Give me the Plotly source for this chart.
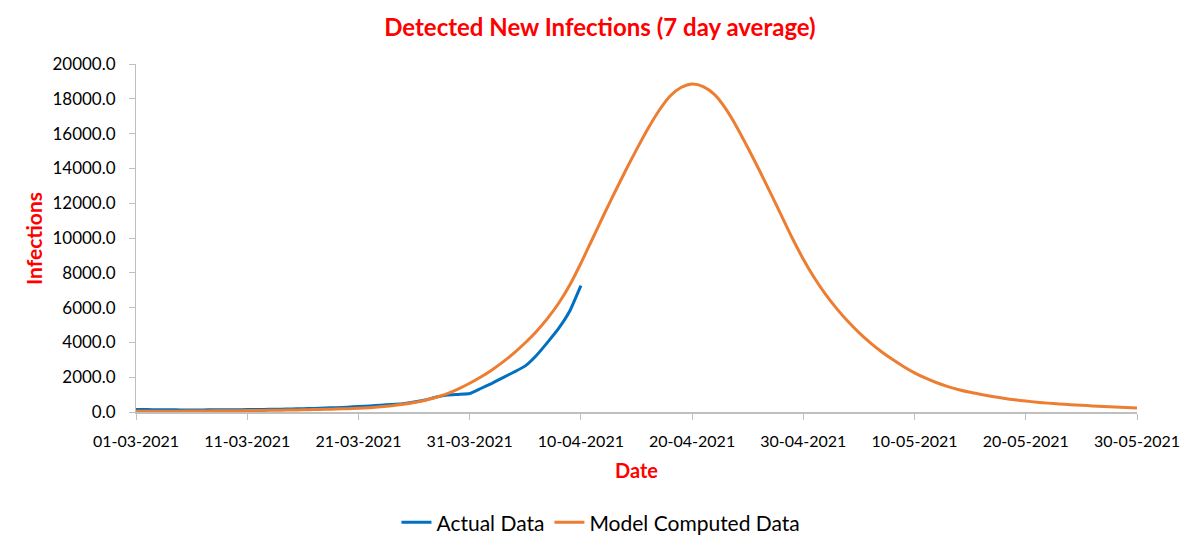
import pandas as pd
import plotly.graph_objects as go

start_date = "2021-03-01"

actual_values = [
    150, 140, 130, 125, 120, 120, 122, 125, 128, 132,
    138, 145, 155, 165, 178, 190, 205, 225, 250, 280,
    315, 350, 390, 430, 480, 570, 690, 860, 970, 1010,
    1060, 1350, 1650, 1980, 2300, 2650, 3250, 4000, 4800, 5800,
    7260,
]

model_values = [
    40, 42, 44, 46, 50, 55, 60, 65, 70, 75,
    80, 88, 96, 105, 115, 125, 140, 155, 170, 190,
    215, 250, 295, 355, 440, 545, 680, 850, 1060, 1330,
    1650, 2010, 2420, 2880, 3400, 3980, 4630, 5380, 6250, 7300,
    8550, 9900, 11250, 12570, 13850, 15080, 16250, 17300, 18150, 18650,
    18850, 18700, 18250, 17450, 16400, 15200, 13950, 12650, 11330, 10000,
    8780, 7700, 6760, 5940, 5210, 4560, 3990, 3480, 3030, 2620,
    2250, 1940, 1680, 1460, 1280, 1130, 1010, 895, 795, 705,
    630, 565, 510, 465, 420, 385, 350, 315, 285, 258,
    232,
]

tick_dates = ["2021-03-01", "2021-03-11", "2021-03-21", "2021-03-31", "2021-04-10",
              "2021-04-20", "2021-04-30", "2021-05-10", "2021-05-20", "2021-05-30"]

actual_dates = pd.date_range(start_date, periods=len(actual_values), freq="D")
model_dates = pd.date_range(start_date, periods=len(model_values), freq="D")

FONT = "Lato"
RED = "#FF0000"
GREY = "#BFBFBF"

fig = go.Figure()
fig.add_trace(go.Scatter(x=actual_dates, y=actual_values, mode="lines", name="Actual Data",
                         line=dict(color="#0070C0", width=3, shape="spline", smoothing=0.4)))
fig.add_trace(go.Scatter(x=model_dates, y=model_values, mode="lines", name="Model Computed Data",
                         line=dict(color="#ED7D31", width=3, shape="spline", smoothing=0.8)))

fig.update_layout(
    width=1200, height=547,
    margin=dict(l=128, r=71, t=56, b=143),
    paper_bgcolor="white", plot_bgcolor="white",
    font=dict(family=FONT, size=16, color="#000000"),
    title=dict(text="<b>Detected New Infections (7 day average)</b>", x=0.4933, xanchor="center",
               y=1 - 20 / 547, yref="container", yanchor="middle",
               font=dict(family=FONT, size=24, color=RED)),
    showlegend=True,
    legend=dict(orientation="h", x=0.4645, xanchor="center", y=-0.318, yanchor="middle",
                font=dict(family=FONT, size=21, color="#000000"), itemwidth=30,
                bgcolor="rgba(0,0,0,0)"),
    annotations=[
        dict(text="<b>Infections</b>", xref="paper", yref="paper", x=-0.1029, y=0.5,
             xanchor="center", yanchor="middle", textangle=-90, showarrow=False,
             font=dict(family=FONT, size=21, color=RED)),
        dict(text="<b>Date</b>", xref="paper", yref="paper", x=0.5, y=-0.1667,
             xanchor="center", yanchor="middle", showarrow=False,
             font=dict(family=FONT, size=20, color=RED)),
    ],
)

fig.update_xaxes(
    type="date", range=[tick_dates[0], tick_dates[-1]], automargin=False,
    tickmode="array", tickvals=tick_dates, tickformat="%d-%m-%Y",
    showgrid=False, zeroline=False,
    showline=True, linecolor=GREY, linewidth=2,
    ticks="outside", tickcolor=GREY, ticklen=6, tickwidth=1, ticklabelstandoff=8,
    tickfont=dict(family=FONT, size=16, color="#000000"),
)
fig.update_yaxes(
    range=[0, 20000], tickmode="linear", tick0=0, dtick=2000, tickformat=".1f",
    automargin=False,
    showgrid=False, zeroline=False,
    showline=True, linecolor=GREY, linewidth=1,
    ticks="outside", tickcolor=GREY, ticklen=6, tickwidth=1, ticklabelstandoff=10,
    tickfont=dict(family=FONT, size=17, color="#000000"),
)

fig.write_html("out.html")
